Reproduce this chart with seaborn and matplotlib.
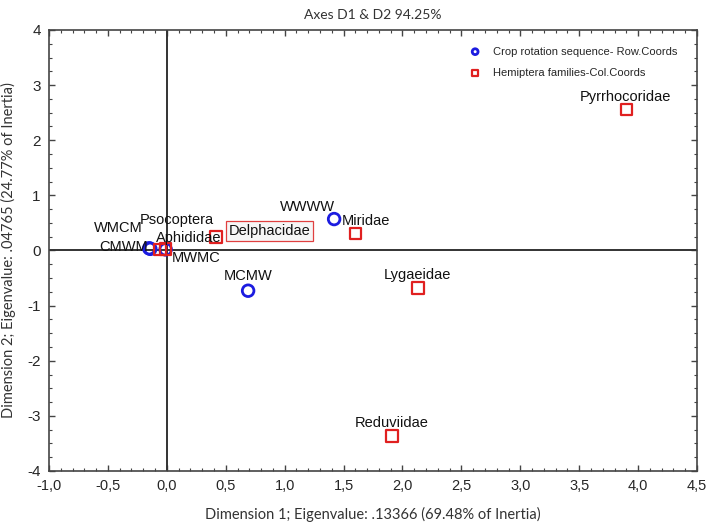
import matplotlib
matplotlib.use("Agg")
import matplotlib.pyplot as plt
import matplotlib.ticker as mticker
import pandas as pd
import seaborn as sns

sns.set_theme(style="white")
plt.rcParams["font.family"] = ["Liberation Sans", "DejaVu Sans"]
plt.rcParams["axes.unicode_minus"] = False

# row coordinates (crop rotation sequences)
row_labels = ["WMCM", "CMWM", "MWMC", "WWWW", "MCMW"]
row_x = [-0.15, -0.14, -0.01, 1.42, 0.69]
row_y = [0.04, 0.03, 0.02, 0.57, -0.73]

# column coordinates (Hemiptera families)
col_labels = ["Psocoptera", "Aphididae", "Delphacidae", "Miridae",
              "Lygaeidae", "Reduviidae", "Pyrrhocoridae"]
col_x = [-0.06, -0.01, 0.42, 1.60, 2.13, 1.91, 3.90]
col_y = [0.02, 0.03, 0.24, 0.31, -0.68, -3.37, 2.56]

x_ticks = [-1.0, -0.5, 0.0, 0.5, 1.0, 1.5, 2.0, 2.5, 3.0, 3.5, 4.0, 4.5]
y_ticks = [-4, -3, -2, -1, 0, 1, 2, 3, 4]

rows = pd.DataFrame({"x": row_x, "y": row_y, "label": row_labels})
cols = pd.DataFrame({"x": col_x, "y": col_y, "label": col_labels})

# label offsets in pixels (label centre relative to point)
offsets = {
    "WMCM": (-31, 20), "CMWM": (-27, 2), "MWMC": (30, -9),
    "WWWW": (-27, 12), "MCMW": (0, 15),
    "Psocoptera": (17, 29), "Aphididae": (23, 11), "Delphacidae": (53, 6),
    "Miridae": (11, 12), "Lygaeidae": (0, 13), "Reduviidae": (0, 13),
    "Pyrrhocoridae": (-1, 12),
}

fig = plt.figure(figsize=(7.09, 5.26), dpi=100)
ax = fig.add_axes([0.0691, 0.1046, 0.914, 0.8384])

ax.axhline(0, color="#333333", lw=1.4, zorder=1)
ax.axvline(0, color="#333333", lw=1.4, zorder=1)

sns.scatterplot(data=rows, x="x", y="y", marker="o", s=70, facecolor="none",
                edgecolor="#1c1ce0", linewidth=2, ax=ax, zorder=3,
                label="Crop rotation sequence- Row.Coords")
sns.scatterplot(data=cols, x="x", y="y", marker="s", s=70, facecolor="none",
                edgecolor="#e02020", linewidth=1.6, ax=ax, zorder=3,
                label="Hemiptera families-Col.Coords")

for df in (rows, cols):
    for _, r in df.iterrows():
        dx, dy = offsets[r["label"]]
        kw = {}
        if r["label"] == "Delphacidae":
            kw["bbox"] = dict(boxstyle="square,pad=0.2", fc="#f6f6f6",
                              ec="#e04040", lw=0.9)
        ax.annotate(r["label"], (r["x"], r["y"]), xytext=(dx, dy),
                    textcoords="offset pixels", ha="center", va="center",
                    fontsize=10.5, color="#111111", zorder=4, **kw)

ax.set_xlim(-1.0, 4.5)
ax.set_ylim(-4, 4)
ax.set_xticks(x_ticks)
ax.set_yticks(y_ticks)
ax.xaxis.set_major_formatter(
    mticker.FuncFormatter(lambda v, p: f"{v:.1f}".replace(".", ",")))
ax.xaxis.set_minor_locator(mticker.MultipleLocator(0.1))
ax.yaxis.set_minor_locator(mticker.MultipleLocator(0.25))
ax.tick_params(which="both", direction="in", top=True, right=True,
               bottom=True, left=True, color="#444444")
ax.tick_params(which="major", length=4, width=1, labelsize=11, pad=6)
ax.tick_params(which="minor", length=2.5, width=0.8)
ax.tick_params(axis="x", labelsize=10.5)
for sp in ax.spines.values():
    sp.set_color("#444444")
    sp.set_linewidth(1.2)

ax.set_xlabel("Dimension 1; Eigenvalue: .13366 (69.48% of Inertia)",
              fontsize=10.5, family=["Lato", "DejaVu Sans"], color="#333333",
              labelpad=10)
ax.set_ylabel("Dimension 2; Eigenvalue: .04765 (24.77% of Inertia)",
              fontsize=10.5, family=["Lato", "DejaVu Sans"], color="#333333",
              labelpad=8)
ax.set_title("Axes D1 & D2 94.25%", fontsize=10, family=["Lato", "DejaVu Sans"],
             color="#333333", pad=8)

leg = ax.legend(loc="upper right", bbox_to_anchor=(0.985, 0.985), frameon=False,
                fontsize=8, markerscale=0.5, handletextpad=0.6, labelspacing=1.0)

fig.savefig("out.png", dpi=100)
